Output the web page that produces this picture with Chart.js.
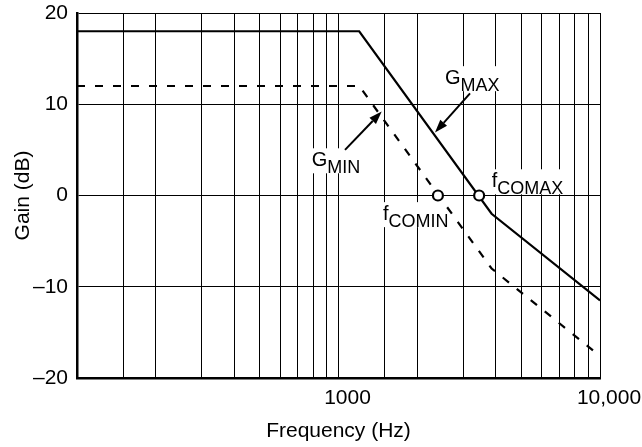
<!DOCTYPE html>
<html>
<head>
<meta charset="utf-8">
<title>Gain vs Frequency</title>
<script src="https://cdn.jsdelivr.net/npm/chart.js@4.4.1/dist/chart.umd.min.js"></script>
<style>
  html, body { margin: 0; padding: 0; background: #fff; }
  #wrap { width: 642px; height: 447px; }
</style>
</head>
<body>
<div id="wrap"><canvas id="gainChart" width="642" height="447"></canvas></div>
<script>
const FONT = "'Liberation Sans', Arial, Helvetica, sans-serif";

// --- Data ---
const freqMax = [100, 1200, 3850, 10000];
const gainMax = [18, 18, -2, -11.5];
const freqMin = [100, 1200, 3850, 10000];
const gainMin = [12, 12, -8, -17.6];

// crossover points (open circles)
const crossFreq = [2400, 3450];
const crossGain = [0, 0];

// log-paper grid lines and the two labelled ticks
const xGridValues = [100, 150, 200, 300, 400, 500, 600, 700, 800, 900,
  1000, 1500, 2000, 3000, 4000, 5000, 6000, 7000, 8000, 9000, 10000];
const xLabelValues = [1000, 10000];
const xTickLabels = ['1000', '10,000'];

const yTickValues = [-20, -10, 0, 10, 20];
const yTickLabels = ['\u201320', '\u201310', '0', '10', '20'];

// callouts: main letter + subscript, anchored at left / baseline
const calloutMain = ['G', 'G', 'f', 'f'];
const calloutSub = ['MAX', 'MIN', 'COMAX', 'COMIN'];
const calloutFreq = [2555, 790, 3853, 1479];
const calloutGain = [12.2, 3.2, 0.9, -2.7];

// arrows, from -> to
const arrowFromFreq = [3184, 1059];
const arrowFromGain = [11.2, 5.0];
const arrowToFreq = [2339, 1463];
const arrowToGain = [6.9, 9.2];

function toPoints(xs, ys) {
  return xs.map((v, i) => ({ x: v, y: ys[i] }));
}

function drawArrow(ctx, x0, y0, x1, y1) {
  const ang = Math.atan2(y1 - y0, x1 - x0);
  const head = 13, half = 4.5;
  const bx = x1 - head * Math.cos(ang);
  const by = y1 - head * Math.sin(ang);
  ctx.beginPath();
  ctx.moveTo(x0, y0);
  ctx.lineTo(bx, by);
  ctx.stroke();
  ctx.beginPath();
  ctx.moveTo(x1, y1);
  ctx.lineTo(bx + half * Math.sin(ang), by - half * Math.cos(ang));
  ctx.lineTo(bx - half * Math.sin(ang), by + half * Math.cos(ang));
  ctx.closePath();
  ctx.fill();
}

// --- Callouts: white boxes under the grid, text + arrows on top ---
const calloutPlugin = {
  id: 'callouts',
  beforeDatasetsDraw(chart) {
    const { ctx, scales: { x, y } } = chart;
    ctx.save();
    ctx.fillStyle = '#fff';
    calloutMain.forEach((m, i) => {
      const px = x.getPixelForValue(calloutFreq[i]);
      const py = y.getPixelForValue(calloutGain[i]);
      ctx.font = `20px ${FONT}`;
      const wMain = ctx.measureText(m).width;
      ctx.font = `18px ${FONT}`;
      const wSub = ctx.measureText(calloutSub[i]).width;
      ctx.fillRect(px - 3, py - 18, wMain + wSub + 6, 25);
    });
    ctx.restore();
  },
  afterDatasetsDraw(chart) {
    const { ctx, scales: { x, y } } = chart;
    ctx.save();
    ctx.fillStyle = '#000';
    ctx.strokeStyle = '#000';
    ctx.textBaseline = 'alphabetic';
    ctx.textAlign = 'left';
    calloutMain.forEach((m, i) => {
      const px = x.getPixelForValue(calloutFreq[i]);
      const py = y.getPixelForValue(calloutGain[i]);
      ctx.font = `20px ${FONT}`;
      ctx.fillText(m, px, py);
      const wMain = ctx.measureText(m).width;
      ctx.font = `18px ${FONT}`;
      ctx.fillText(calloutSub[i], px + wMain, py + 7);
    });
    ctx.lineWidth = 2;
    arrowFromFreq.forEach((f, i) => {
      drawArrow(ctx,
        x.getPixelForValue(f), y.getPixelForValue(arrowFromGain[i]),
        x.getPixelForValue(arrowToFreq[i]), y.getPixelForValue(arrowToGain[i]));
    });
    ctx.restore();
  }
};

new Chart(document.getElementById('gainChart'), {
  type: 'scatter',
  data: {
    datasets: [
      {
        label: 'fCO',
        data: toPoints(crossFreq, crossGain),
        showLine: false,
        pointRadius: 5,
        pointBorderWidth: 2.2,
        pointBackgroundColor: '#fff',
        pointBorderColor: '#000',
        order: 0
      },
      {
        label: 'GMAX',
        data: toPoints(freqMax, gainMax),
        showLine: true,
        borderColor: '#000',
        borderWidth: 2.2,
        pointRadius: 0,
        tension: 0,
        order: 1
      },
      {
        label: 'GMIN',
        data: toPoints(freqMin, gainMin),
        showLine: true,
        borderColor: '#000',
        borderWidth: 2.2,
        borderDash: [8, 10],
        pointRadius: 0,
        tension: 0,
        order: 2
      }
    ]
  },
  options: {
    responsive: false,
    animation: false,
    devicePixelRatio: 1,
    layout: { padding: { top: 13, right: 42, left: 0, bottom: 0 } },
    plugins: {
      legend: { display: false },
      tooltip: { enabled: false }
    },
    scales: {
      x: {
        type: 'logarithmic',
        min: 100,
        max: 10000,
        afterBuildTicks: s => { s.ticks = xGridValues.map(v => ({ value: v })); },
        afterFit: s => {
          s.height = 69;
          s.paddingLeft = 0;
          s.paddingRight = 0;
        },
        grid: { color: '#000', lineWidth: 1, drawTicks: false },
        border: { color: '#000', width: 2.5 },
        ticks: {
          autoSkip: false,
          maxRotation: 0,
          padding: 8,
          labelOffset: 9,
          color: '#000',
          font: { family: FONT, size: 21 },
          callback: v => {
            const i = xLabelValues.indexOf(v);
            return i < 0 ? '' : xTickLabels[i];
          }
        },
        title: {
          display: true,
          text: 'Frequency (Hz)',
          color: '#000',
          font: { family: FONT, size: 21 },
          padding: { top: 0, bottom: 3 }
        }
      },
      y: {
        min: -20,
        max: 20,
        afterBuildTicks: s => { s.ticks = yTickValues.map(v => ({ value: v })); },
        afterFit: s => {
          s.width = 77;
          s.paddingTop = 0;
          s.paddingBottom = 0;
        },
        grid: { color: '#000', lineWidth: 1, drawTicks: false },
        border: { color: '#000', width: 2.5 },
        ticks: {
          padding: 9,
          color: '#000',
          font: { family: FONT, size: 21 },
          callback: v => yTickLabels[yTickValues.indexOf(v)]
        },
        title: {
          display: true,
          text: 'Gain (dB)',
          color: '#000',
          font: { family: FONT, size: 21 },
          padding: { top: 11, bottom: 0 }
        }
      }
    }
  },
  plugins: [calloutPlugin]
});
</script>
</body>
</html>
